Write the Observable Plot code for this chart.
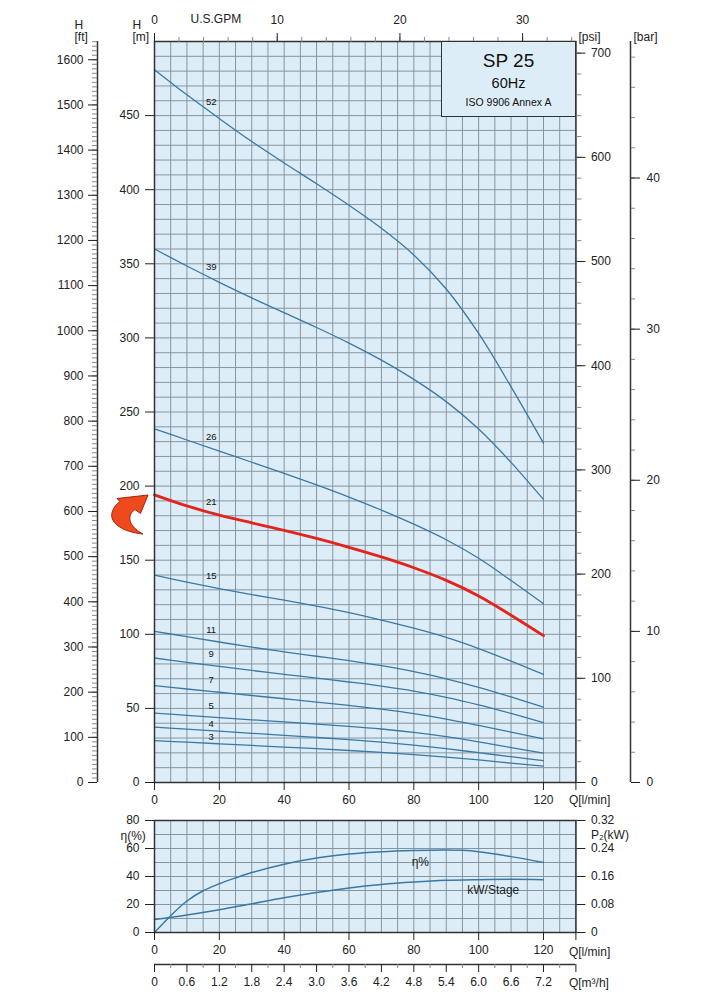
<!DOCTYPE html>
<html><head><meta charset="utf-8">
<script src="https://cdn.jsdelivr.net/npm/d3@7"></script>
<script src="https://cdn.jsdelivr.net/npm/@observablehq/plot@0.6"></script>
<style>
body{margin:0;background:#fff;font-family:"Liberation Sans",Arial,sans-serif;}
#wrap{position:relative;width:726px;height:1000px;overflow:hidden;background:#fff;}
.layer{position:absolute;left:0;}
#box{position:absolute;left:441px;top:41px;width:135px;height:76px;box-sizing:border-box;border:1.5px solid #333;background:#ddedf8;color:#111;}
#box div{position:absolute;left:0;right:0;text-align:center;line-height:1;}
#arrow{position:absolute;left:0;top:0;pointer-events:none;}
</style></head><body>
<div id="wrap">
</div>
<script>
// ---- data: pump curves (Q in l/min, H in m) ----
const Q = [0,10,20,30,40,50,60,70,80,90,100,110,120];
const stages = [52,39,26,21,15,11,9,7,5,4,3];
const H52 = [481,464,448,432.5,418,404,389.5,374,356,333,303,267,229];
const H39 = [360,348.5,337.5,327,317,307,296.5,285,272,257,238.5,216,191];
const H26 = [238.6,231.1,223.6,216.1,208.6,200.8,192.6,183.8,174.3,163.8,151.3,136.3,120.6];
const H21 = [194.1,186.6,180.4,175.2,170.2,164.7,158.7,152.2,144.9,136.4,125.9,112.9,99.1];
const H15 = [140,135.2,130.8,126.8,123,119,114.6,109.6,104.1,97.9,90.4,81.9,72.9];
const H11 = [102,98.4,94.8,91.3,88.2,85.2,82.2,78.8,74.8,70,64.2,57.7,50.8];
const H9  = [84,81.1,78.3,75.6,73,70.4,67.8,65,61.7,57.5,52.4,46.6,40.4];
const H7  = [65.4,63.1,60.9,58.7,56.5,54.3,52,49.5,46.5,42.8,38.5,34,29.5];
const H5  = [46.8,45.3,43.8,42.3,40.9,39.4,37.9,36.1,33.8,30.9,27.4,23.6,19.8];
const H4  = [37.3,36,34.6,33.2,31.8,30.4,28.9,27.2,25.2,22.8,20.1,17.4,14.8];
const H3  = [28.3,27.2,26.1,25,23.9,22.8,21.6,20.3,18.8,17.1,15.2,13.1,11];
const heads = [H52,H39,H26,H21,H15,H11,H9,H7,H5,H4,H3];
const selected = 21;

// efficiency and power per stage
const Qeta = [0,5,10,15,20,25,30,40,50,60,70,80,90,95,100,110,120];
const eta  = [0,12,22.5,29.8,34.8,39,42.8,48.8,53.2,56,57.7,58.6,59,58.7,57.7,54.2,50];
const Qkw  = [0,10,20,30,40,50,60,70,80,90,100,110,120];
const kw   = [0.037,0.05,0.065,0.082,0.099,0.114,0.127,0.137,0.144,0.149,0.151,0.152,0.151];

// tick labels
const mTicks = [0,50,100,150,200,250,300,350,400,450];
const ftMajor = d3.range(0,1601,100);
const ftMinor = d3.range(0,1641,10);
const psiMajor = d3.range(0,701,100);
const psiMinor = d3.range(0,711,20);
const barMajor = [0,10,20,30,40];
const barMinor = d3.range(0,49,2);
const gpmMajor = [0,10,20,30];
const gpmMinor = d3.range(0,35,2);
const qTicks = [0,20,40,60,80,100,120,130];
const etaTicks = [0,20,40,60,80];
const kwLabels = ["0","0.08","0.16","0.24","0.32"];

// unit conversions
const FT = 0.3048, PSI = 0.70307, BAR = 10.197, GPM = 3.78541;
const Q_MAX = 130, H_MAX = 500;

const BG = "#ddedf8", GRID = "#8296a1", BLUE = "#3a78a6", RED = "#e4231b", INK = "#222";
const font = {fontFamily:"'Liberation Sans', Arial, sans-serif", fontSize:"12px", background:"transparent", overflow:"visible", color: INK};

const rows = heads.flatMap((H, k) => H.map((h, i) => ({stage: stages[k], q: Q[i], h})));
const labelRows = heads.map((H, k) => ({stage: stages[k], q: 17.5, h: H[1] + (H[2]-H[1])*0.75}));

const ML = 154, MR = 150.6;
const T = (s, o) => Plot.text([s], {fontSize: 12, fill: INK, lineAnchor: "middle", ...o});

const topPlot = Plot.plot({
  width: 726, height: 815,
  marginLeft: ML, marginRight: MR, marginTop: 41, marginBottom: 33,
  x: {domain: [0, Q_MAX]},
  y: {domain: [0, H_MAX]},
  style: font,
  marks: [
    Plot.frame({fill: BG, stroke: null}),
    Plot.ruleX(d3.range(0, Q_MAX + 1, 5), {stroke: GRID, strokeWidth: 1}),
    Plot.ruleY(d3.range(0, H_MAX + 1, 10), {stroke: GRID, strokeWidth: 1}),
    Plot.line(rows.filter(d => d.stage !== selected), {x: "q", y: "h", z: "stage", stroke: BLUE, strokeWidth: 1.3, curve: "catmull-rom"}),
    Plot.line(rows.filter(d => d.stage === selected), {x: "q", y: "h", stroke: RED, strokeWidth: 2.8, curve: "catmull-rom"}),
    Plot.text(labelRows.filter(d => d.stage > 4), {x: "q", y: "h", text: d => String(d.stage), dy: -11, fontSize: 9.5, fill: "#111"}),
    Plot.text(labelRows.filter(d => d.stage <= 4), {x: "q", y: "h", text: d => String(d.stage), dy: -6.5, fontSize: 9.5, fill: "#111"}),
    Plot.frame({stroke: "#333", strokeWidth: 1.5}),
    // m axis
    Plot.axisY(mTicks, {anchor: "left", tickSize: 9, tickPadding: 6, tickFormat: d => String(d), label: null}),
    // ft axis
    Plot.ruleX([0], {dx: -57, stroke: "#333", strokeWidth: 1.5}),
    Plot.axisY(ftMinor.map(f => f*FT), {anchor: "left", dx: -57, tickSize: 5, tickFormat: () => "", stroke: "#888", label: null}),
    Plot.axisY(ftMajor.map(f => f*FT), {anchor: "left", dx: -57, tickSize: 9, tickPadding: 5, tickFormat: d => String(Math.round(d/FT)), label: null}),
    // psi axis
    Plot.axisY(psiMinor.map(p => p*PSI), {anchor: "right", tickSize: 5, tickFormat: () => "", stroke: "#888", label: null}),
    Plot.axisY(psiMajor.map(p => p*PSI), {anchor: "right", tickSize: 9, tickPadding: 6, tickFormat: d => String(Math.round(d/PSI)), label: null}),
    // bar axis
    Plot.ruleX([Q_MAX], {dx: 54.6, stroke: "#333", strokeWidth: 1.5}),
    Plot.axisY(barMinor.map(b => b*BAR), {anchor: "right", dx: 54.6, tickSize: 4, tickFormat: () => "", stroke: "#888", label: null}),
    Plot.axisY(barMajor.map(b => b*BAR), {anchor: "right", dx: 54.6, tickSize: 9, tickPadding: 7, tickFormat: d => String(Math.round(d/BAR)), label: null}),
    // GPM axis
    Plot.axisX(gpmMinor.map(g => g*GPM), {anchor: "top", tickSize: 5, tickFormat: () => "", stroke: "#888", label: null}),
    Plot.axisX(gpmMajor.map(g => g*GPM), {anchor: "top", tickSize: 9, tickPadding: 9, tickFormat: d => String(Math.round(d/GPM)), label: null}),
    Plot.text([{q: 5*GPM, t: "U.S.GPM"}], {x: "q", text: "t", frameAnchor: "top", lineAnchor: "middle", dy: -22, fontSize: 12, fill: INK}),
    // Q axis
    Plot.axisX(qTicks, {anchor: "bottom", tickSize: 8, tickPadding: 5, tickFormat: d => d > 120 ? "" : String(d), label: null}),
    T("Q[l/min]", {frameAnchor: "bottom-right", textAnchor: "start", dx: -7, dy: 18}),
    // axis titles
    T("H", {frameAnchor: "top-left", dx: -22, dy: -16.5}),
    T("[m]", {frameAnchor: "top-left", dx: -22, dy: -4}),
    T("H", {frameAnchor: "top-left", dx: -80, dy: -16.5}),
    T("[ft]", {frameAnchor: "top-left", dx: -80, dy: -4}),
    T("[psi]", {frameAnchor: "top-right", dx: 24.6, dy: -4}),
    T("[bar]", {frameAnchor: "top-right", dx: 81.6, dy: -4})
  ]
});

const fmt1 = d3.format(".1f");
const botPlot = Plot.plot({
  width: 726, height: 188,
  marginLeft: ML, marginRight: MR, marginTop: 8, marginBottom: 68,
  x: {domain: [0, Q_MAX]},
  y: {domain: [0, 80]},
  style: font,
  marks: [
    Plot.frame({fill: BG, stroke: null}),
    Plot.ruleX(d3.range(0, Q_MAX + 1, 5), {stroke: GRID, strokeWidth: 1}),
    Plot.ruleY(d3.range(0, 81, 10), {stroke: GRID, strokeWidth: 1}),
    Plot.line(Qeta.map((q, i) => ({q, v: eta[i]})), {x: "q", y: "v", stroke: BLUE, strokeWidth: 1.5, curve: "catmull-rom"}),
    Plot.line(Qkw.map((q, i) => ({q, v: kw[i] * 80 / 0.32})), {x: "q", y: "v", stroke: BLUE, strokeWidth: 1.5, curve: "catmull-rom"}),
    Plot.text([{q: 82, v: 50, t: "η%"}], {x: "q", y: "v", text: "t", fontSize: 12, fill: INK}),
    Plot.text([{q: 104.5, v: 30, t: "kW/Stage"}], {x: "q", y: "v", text: "t", fontSize: 12, fill: INK}),
    Plot.frame({stroke: "#333", strokeWidth: 1.5}),
    Plot.axisY(etaTicks, {anchor: "left", tickSize: 9, tickPadding: 6, tickFormat: d => String(d), label: null}),
    Plot.axisY(etaTicks, {anchor: "right", tickSize: 9, tickPadding: 6, tickFormat: d => kwLabels[etaTicks.indexOf(d)], label: null}),
    Plot.axisX(qTicks, {anchor: "bottom", tickSize: 8, tickPadding: 5, tickFormat: d => d > 120 ? "" : String(d), label: null}),
    T("Q[l/min]", {frameAnchor: "bottom-right", textAnchor: "start", dx: -7, dy: 20}),
    // m3/h axis
    Plot.ruleY([0], {dy: 32, stroke: "#333", strokeWidth: 1.5}),
    Plot.axisX(d3.range(5, Q_MAX, 10), {anchor: "bottom", dy: 32, tickSize: 4, tickFormat: () => "", stroke: "#888", label: null}),
    Plot.axisX(d3.range(0, Q_MAX + 1, 10), {anchor: "bottom", dy: 32, tickSize: 8, tickPadding: 5, tickFormat: d => d === 0 ? "0" : d > 120 ? "" : fmt1(d * 0.06), label: null}),
    T("Q[m³/h]", {frameAnchor: "bottom-right", textAnchor: "start", dx: -7, dy: 51}),
    T("η(%)", {frameAnchor: "top-left", dx: -34, dy: 16}),
    T("P₂(kW)", {frameAnchor: "top-right", textAnchor: "start", dx: 15, dy: 15})
  ]
});

const wrap = document.getElementById("wrap");
const l1 = document.createElement("div"); l1.className = "layer"; l1.style.top = "0px"; l1.appendChild(topPlot);
const l2 = document.createElement("div"); l2.className = "layer"; l2.style.top = "812px"; l2.appendChild(botPlot);
wrap.appendChild(l1); wrap.appendChild(l2);

// title box
const box = document.createElement("div"); box.id = "box";
box.innerHTML = '<div style="top:9px;font-size:19px">SP 25</div><div style="top:34px;font-size:14.5px">60Hz</div><div style="top:55px;font-size:10.5px">ISO 9906 Annex A</div>';
wrap.appendChild(box);

// red arrow pointing at the selected curve
const ns = "http://www.w3.org/2000/svg";
const svg = document.createElementNS(ns, "svg");
svg.setAttribute("id", "arrow"); svg.setAttribute("width", 726); svg.setAttribute("height", 1000);
const p = document.createElementNS(ns, "path");
p.setAttribute("d", "M143,534 C122,532 107,522 113,510 C115,505 118,503 120,501.5 L117,498.5 L148,495 L140.5,513.5 L135,509.5 C128,514 126,525 143,534 Z");
p.setAttribute("fill", "#ef4a1d"); p.setAttribute("stroke", "#a3240b"); p.setAttribute("stroke-width", "1");
svg.appendChild(p);
wrap.appendChild(svg);
</script></body></html>
